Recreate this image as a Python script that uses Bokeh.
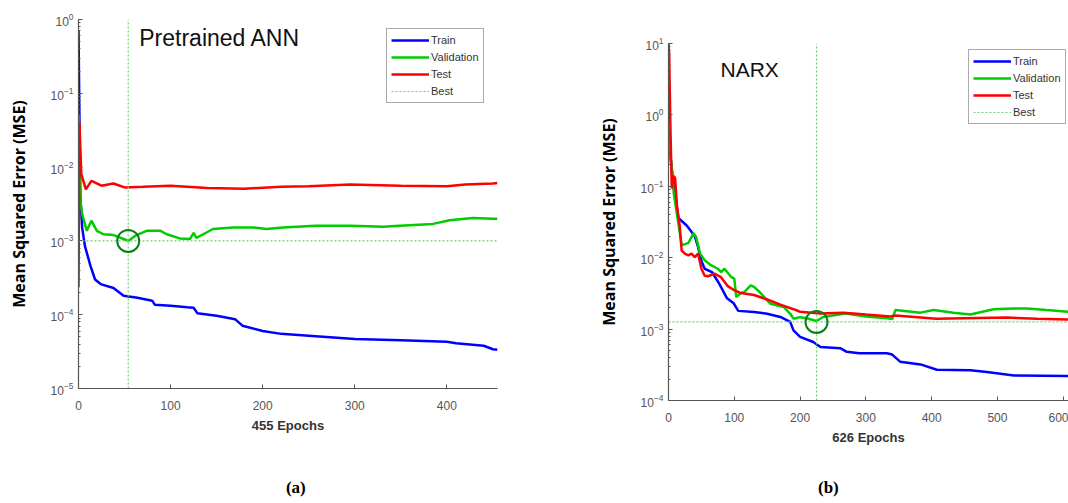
from bokeh.plotting import figure
from bokeh.models import Range1d, Legend, LegendItem, Label
from bokeh.layouts import row, column
from bokeh.embed import file_html
from bokeh.resources import INLINE

# ---------------- data: panel (a) Pretrained ANN ----------------
a_train_x = [0, 1, 2, 4, 7, 13, 18, 24, 38, 49, 64, 80, 83, 100, 118, 125, 129, 150, 170, 178,
             200, 220, 250, 300, 350, 400, 410, 440, 450, 455]
a_train_y = [0.71, 0.05, 4e-3, 1.5e-3, 8.5e-4, 4.6e-4, 3.0e-4, 2.6e-4, 2.3e-4, 1.8e-4, 1.7e-4,
             1.55e-4, 1.36e-4, 1.32e-4, 1.26e-4, 1.24e-4, 1.05e-4, 9.7e-5, 8.7e-5, 7.1e-5, 6.0e-5,
             5.5e-5, 5.2e-5, 4.7e-5, 4.5e-5, 4.3e-5, 4.1e-5, 3.8e-5, 3.4e-5, 3.35e-5]
a_val_x = [0, 1, 2, 4, 9, 14, 20, 27, 38, 49, 54, 63, 74, 89, 96, 110, 121, 125, 128, 139, 146,
           168, 190, 204, 222, 258, 295, 331, 349, 385, 403, 428, 450, 455]
a_val_y = [0.052, 0.01, 3.5e-3, 2.3e-3, 1.37e-3, 1.88e-3, 1.37e-3, 1.23e-3, 1.2e-3, 1.06e-3,
           1.0e-3, 1.2e-3, 1.37e-3, 1.37e-3, 1.23e-3, 1.08e-3, 1.06e-3, 1.28e-3, 1.1e-3, 1.3e-3,
           1.45e-3, 1.52e-3, 1.52e-3, 1.45e-3, 1.52e-3, 1.6e-3, 1.6e-3, 1.55e-3, 1.6e-3, 1.7e-3,
           1.9e-3, 2.04e-3, 2.0e-3, 2.0e-3]
a_test_x = [0, 1, 3, 8, 14, 25, 38, 50, 70, 100, 140, 180, 220, 250, 295, 350, 400, 420, 450, 455]
a_test_y = [2.35e-4, 0.041, 8.1e-3, 5.0e-3, 6.5e-3, 5.6e-3, 6.0e-3, 5.3e-3, 5.4e-3, 5.6e-3,
            5.2e-3, 5.1e-3, 5.4e-3, 5.5e-3, 5.8e-3, 5.6e-3, 5.5e-3, 5.8e-3, 6.0e-3, 6.1e-3]
a_best_epoch = 54
a_best_mse = 1.0e-3
a_epochs = 455

# ---------------- data: panel (b) NARX ----------------
b_train_x = [0, 5, 10, 15, 28, 40, 45, 50, 55, 66, 76, 89, 99, 106, 130, 150, 170, 185,
             190, 200, 220, 231, 261, 271, 290, 332, 340, 352, 383, 408, 459, 484, 525, 626]
b_train_y = [0.5, 0.17, 0.08, 0.036, 0.028, 0.02, 0.014, 9e-3, 7.0e-3, 6.3e-3, 4.5e-3, 2.7e-3,
             2.3e-3, 1.8e-3, 1.73e-3, 1.64e-3, 1.48e-3, 1.26e-3, 9.6e-4, 7.8e-4, 6.6e-4, 5.6e-4,
             5.4e-4, 4.8e-4, 4.6e-4, 4.6e-4, 4.4e-4, 3.5e-4, 3.2e-4, 2.7e-4, 2.65e-4, 2.5e-4,
             2.24e-4, 2.2e-4]
b_val_x = [0, 3, 6, 8, 12, 20, 30, 38, 42, 48, 55, 65, 75, 80, 85, 95, 100, 103, 110, 115, 125,
           130, 140, 155, 175, 185, 190, 200, 210, 225, 235, 269, 300, 333, 340, 345, 383, 403,
           433, 459, 494, 525, 545, 575, 626]
b_val_y = [0.64, 0.27, 0.15, 0.079, 0.046, 0.015, 0.016, 0.022, 0.0195, 0.0114, 9.2e-3, 7.8e-3,
           7.0e-3, 6.3e-3, 7.0e-3, 5.4e-3, 5.1e-3, 2.8e-3, 3.2e-3, 3.3e-3, 4.1e-3, 3.9e-3,
           3.2e-3, 2.26e-3, 2.04e-3, 1.64e-3, 1.4e-3, 1.47e-3, 1.42e-3, 1.3e-3, 1.48e-3,
           1.65e-3, 1.5e-3, 1.42e-3, 1.38e-3, 1.85e-3, 1.7e-3, 1.85e-3, 1.7e-3, 1.6e-3,
           1.9e-3, 1.95e-3, 1.95e-3, 1.85e-3, 1.7e-3]
b_test_x = [0, 1, 3, 5, 8, 10, 13, 17, 20, 25, 30, 35, 40, 45, 50, 55, 60, 70, 80, 90, 100, 110,
            130, 150, 170, 190, 200, 231, 266, 300, 337, 345, 407, 450, 514, 560, 626]
b_test_y = [10, 7.2, 0.6, 0.093, 0.14, 0.13, 0.051, 0.028, 0.0126, 0.0114, 0.0108, 0.0114,
            0.0102, 0.0114, 7.0e-3, 5.6e-3, 5.5e-3, 6.0e-3, 5.3e-3, 4.0e-3, 3.5e-3, 3.2e-3,
            3.0e-3, 2.6e-3, 2.2e-3, 1.9e-3, 1.75e-3, 1.65e-3, 1.7e-3, 1.6e-3, 1.5e-3, 1.55e-3,
            1.4e-3, 1.42e-3, 1.45e-3, 1.4e-3, 1.35e-3]
b_best_epoch = 225
b_best_mse = 1.26e-3
b_epochs = 626

labels = ["Train", "Validation", "Test", "Best"]
captions = ["(a)", "(b)"]
BLUE, GREEN, RED = "#0000FF", "#00CC00", "#FF0000"
BEST = "#6fcf6f"
AXC = "#555555"


def panel(xr, yr, mb, tx, ty, vx, vy, sx, sy, best_e, best_m, xlabel, title, tpos, tsize,
          legend_loc):
    p = figure(width=534, height=468, x_range=Range1d(*xr), y_range=Range1d(*yr),
               y_axis_type="log", output_backend="svg", toolbar_location=None,
               min_border_left=mb[0], min_border_right=mb[1], min_border_top=mb[2],
               min_border_bottom=mb[3])
    p.outline_line_color = None
    p.grid.visible = False
    for ax in p.axis:
        ax.axis_line_color = AXC
        ax.axis_line_width = 1.2
        ax.major_tick_in = 4
        ax.major_tick_out = 0
        ax.minor_tick_in = 2
        ax.minor_tick_out = 0
        ax.major_tick_line_color = AXC
        ax.minor_tick_line_color = AXC
        ax.major_label_text_font = "Liberation Sans"
        ax.major_label_text_font_size = "12px"
        ax.major_label_text_color = AXC
    p.xaxis.minor_tick_line_color = None
    p.xaxis.major_label_standoff = 12
    p.xaxis.axis_label = xlabel
    p.xaxis.axis_label_text_font = "Liberation Sans"
    p.xaxis.axis_label_text_font_style = "bold"
    p.xaxis.axis_label_text_font_size = "13px"
    p.xaxis.axis_label_text_color = "#333333"
    p.xaxis.axis_label_standoff = 5
    p.yaxis.major_label_standoff = 5
    p.yaxis.axis_label = "Mean Squared Error (MSE)"
    p.yaxis.axis_label_text_font = "Open Sans"
    p.yaxis.axis_label_text_font_style = "bold"
    p.yaxis.axis_label_text_font_size = "16px"
    p.yaxis.axis_label_text_color = "#000000"
    p.yaxis.axis_label_standoff = 18

    r_tr = p.line(tx, ty, line_color=BLUE, line_width=2.5)
    r_va = p.line(vx, vy, line_color=GREEN, line_width=2.5)
    r_te = p.line(sx, sy, line_color=RED, line_width=2.5)
    r_be = p.line([best_e, best_e], [yr[0], yr[1]], line_color=BEST, line_width=1.2,
                  line_dash="2 2")
    p.line([xr[0], xr[1]], [best_m, best_m], line_color=BEST, line_width=1.2, line_dash="2 2")
    p.scatter([best_e], [best_m], marker="circle", size=22, fill_color=None,
              line_color="#0a7d1a", line_width=2)

    leg = Legend(items=[LegendItem(label=labels[0], renderers=[r_tr]),
                        LegendItem(label=labels[1], renderers=[r_va]),
                        LegendItem(label=labels[2], renderers=[r_te]),
                        LegendItem(label=labels[3], renderers=[r_be])],
                 location=legend_loc, border_line_color=AXC, border_line_width=1.5,
                 label_text_font="Liberation Sans", label_text_font_size="11px",
                 label_text_color="#333333", glyph_width=38, glyph_height=14,
                 label_height=14, label_standoff=2, spacing=3, padding=4, margin=0)
    p.add_layout(leg)

    p.add_layout(Label(x=tpos[0], y=tpos[1], text=title, text_font="Liberation Sans",
                       text_font_size=tsize, text_baseline="middle", text_color="#111111"))
    return p


def caption_fig(text, xr, mb, cx):
    c = figure(width=534, height=35, x_range=Range1d(*xr), y_range=Range1d(0, 35),
               output_backend="svg", toolbar_location=None, min_border_top=0,
               min_border_bottom=0, min_border_left=mb[0], min_border_right=mb[1])
    c.axis.visible = False
    c.grid.visible = False
    c.outline_line_color = None
    c.add_layout(Label(x=cx, y=16, text=text, text_font="Liberation Serif",
                       text_font_size="17px", text_font_style="bold", text_align="center",
                       text_baseline="middle", text_color="#000000"))
    return c


a_xr, a_mb = (0, a_epochs), (78, 37, 19, 80)
b_xr, b_mb = (0, 608), (134, 0, 43, 68)

pa = panel(a_xr, (1e-5, 1), a_mb, a_train_x, a_train_y, a_val_x, a_val_y,
           a_test_x, a_test_y, a_best_epoch, a_best_mse, "455 Epochs", "Pretrained ANN",
           (66, 0.56), "23px", (308, 285))
pb = panel(b_xr, (1e-4, 10), b_mb, b_train_x, b_train_y, b_val_x, b_val_y,
           b_test_x, b_test_y, b_best_epoch, b_best_mse, "626 Epochs", "NARX",
           (79, 4.3), "21px", (300, 276))

layout = row(column(pa, caption_fig(captions[0], a_xr, a_mb, 236)),
             column(pb, caption_fig(captions[1], b_xr, b_mb, 243)))
open("out.html", "w").write(file_html(layout, INLINE))
